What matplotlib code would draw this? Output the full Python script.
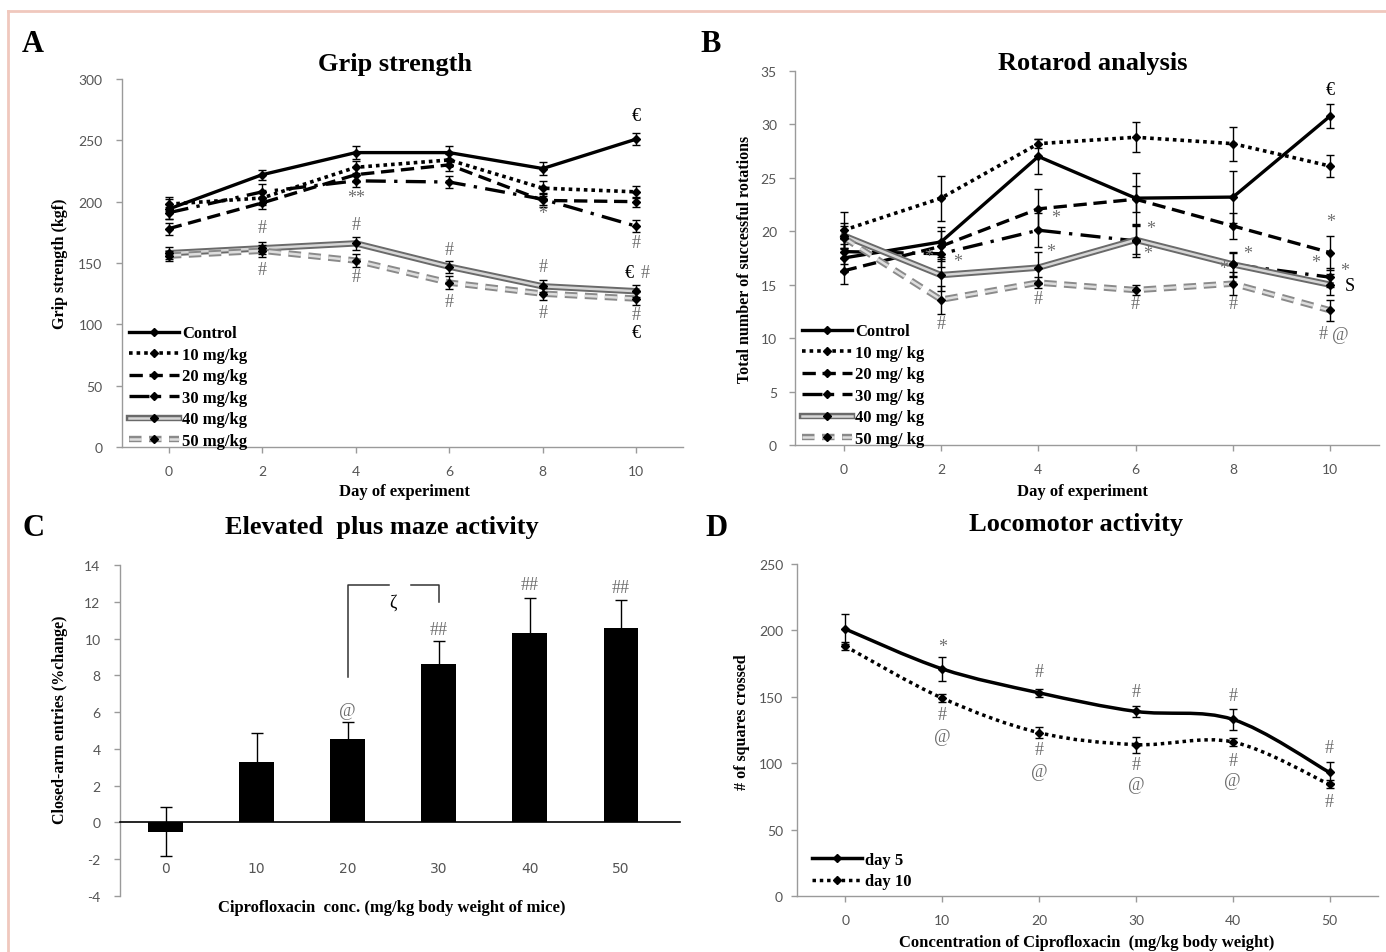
import numpy as np
import matplotlib.pyplot as plt
import matplotlib.patheffects as pe
from matplotlib.lines import Line2D
from matplotlib.path import Path
from matplotlib.patches import PathPatch
from matplotlib.legend_handler import HandlerTuple

plt.rcParams['axes.unicode_minus'] = False

W, H = 1386, 953
SERIF = 'Liberation Serif'
TICKF = 'Lato'

# ---------------- data ----------------
days = [0, 2, 4, 6, 8, 10]

# A: grip strength (kgf)
grip_control = [194, 222, 240, 240, 227, 251]
grip_10 = [198, 203, 228, 234, 211, 208]
grip_20 = [178, 199, 222, 230, 201, 200]
grip_30 = [191, 208, 217, 216, 202, 180]
grip_40 = [158, 162, 166, 147, 131, 127]
grip_50 = [156, 160, 152, 134, 125, 121]
grip_control_err = [8, 4, 5, 5, 5, 5]
grip_10_err = [6, 6, 5, 5, 6, 5]
grip_20_err = [5, 5, 6, 5, 5, 4]
grip_30_err = [5, 6, 5, 5, 5, 5]
grip_40_err = [5, 5, 5, 5, 5, 5]
grip_50_err = [4, 5, 5, 5, 5, 5]

# B: rotarod (successful rotations)
rot_control = [17.5, 19.0, 27.0, 23.1, 23.2, 30.8]
rot_10 = [20.1, 23.1, 28.2, 28.8, 28.2, 26.1]
rot_20 = [16.3, 18.6, 22.1, 23.0, 20.5, 18.0]
rot_30 = [18.1, 17.9, 20.1, 19.1, 16.9, 15.7]
rot_40 = [19.6, 15.9, 16.6, 19.2, 16.9, 15.0]
rot_50 = [19.4, 13.6, 15.2, 14.5, 15.1, 12.6]
rot_control_err = [1.3, 1.4, 1.6, 2.4, 2.4, 1.1]
rot_10_err = [1.7, 2.1, 0.4, 1.4, 1.6, 1.0]
rot_20_err = [1.2, 1.4, 1.9, 1.2, 1.2, 1.6]
rot_30_err = [1.2, 1.2, 1.6, 1.5, 1.2, 0.9]
rot_40_err = [1.2, 1.5, 1.5, 1.3, 1.1, 1.0]
rot_50_err = [1.1, 1.3, 0.5, 0.5, 1.1, 1.0]

groups_A = ['Control', '10 mg/kg', '20 mg/kg', '30 mg/kg', '40 mg/kg', '50 mg/kg']
groups_B = ['Control', '10 mg/ kg', '20 mg/ kg', '30 mg/ kg', '40 mg/ kg', '50 mg/ kg']

# C: elevated plus maze
conc_labels = ['0', '10', '20', '30', '40', '50']
epm_mean = [-0.5, 3.3, 4.55, 8.6, 10.3, 10.6]
epm_err = [1.35, 1.55, 0.9, 1.25, 1.9, 1.5]

# D: locomotor activity
conc = [0, 10, 20, 30, 40, 50]
loco_day5 = [201, 171, 153, 139, 133, 93]
loco_day5_err = [11, 9, 3, 4, 8, 8]
loco_day10 = [188, 149, 123, 114, 116, 84]
loco_day10_err = [3, 3, 4, 6, 3, 3]

# significance marks (x, y, text)
marks_A = [(10, 270, '€'), (4, 203, '**'), (2, 179, '#'), (4, 181, '#'),
           (8, 190, '*'), (10, 167, '#'), (6, 161, '#'), (8, 147, '#'),
           (9.85, 142, '€'), (10.2, 142, '#'), (2, 145, '#'), (4, 139, '#'),
           (6, 119, '#'), (8, 110, '#'), (10, 108, '#'), (10, 93, '€')]
marks_B = [(10, 33.3, '€'), (1.75, 17.6, '*'), (2.35, 17.2, '*'),
           (4.35, 21.3, '*'), (4.25, 18.1, '*'), (6.3, 20.3, '*'),
           (6.25, 17.9, '*'), (7.8, 16.5, '*'), (8.3, 17.9, '*'),
           (10, 20.9, '*'), (9.7, 17.1, '*'), (10.3, 16.3, '*'),
           (10.4, 14.9, 'S'), (2, 11.4, '#'), (4, 13.7, '#'), (6, 13.2, '#'),
           (8, 13.2, '#'), (9.85, 10.4, '#'), (10.2, 10.3, '@')]
marks_C = [(2, 6.1, '@'), (3, 10.5, '##'), (4, 12.95, '##'), (5, 12.8, '##'),
           (2.5, 12.0, 'ζ')]
marks_D = [(10, 188, '*'), (20, 169, '#'), (30, 154, '#'), (40, 151, '#'),
           (50, 112, '#'), (10, 137, '#'), (10, 120, '@'), (20, 110, '#'),
           (20, 94, '@'), (30, 99, '#'), (30, 84, '@'), (40, 102, '#'),
           (40, 87, '@'), (50, 71, '#')]

# ---------------- styles ----------------
styles = [
    dict(color='k', lw=2.4, ls='-', effects=None),
    dict(color='k', lw=2.6, ls=(0, (1, 1.1)), effects=None),
    dict(color='k', lw=2.4, ls=(0, (4, 2)), effects=None),
    dict(color='k', lw=2.4, ls=(0, (6, 2.5, 1, 2.5)), effects=None),
    dict(color='#d6d6d6', lw=1.8, ls='-',
         effects=[pe.Stroke(linewidth=4.6, foreground='#6a6a6a'), pe.Normal()]),
    dict(color='#dedede', lw=1.8, ls=(0, (5, 3)),
         effects=[pe.Stroke(linewidth=4.6, foreground='#8a8a8a'), pe.Normal()]),
]


def px_axes(fig, l, r, t, b):
    return fig.add_axes([l / W, 1 - b / H, (r - l) / W, (b - t) / H])


def style_axes(ax, pad_y=10, pad_x=10):
    for s in ['top', 'right']:
        ax.spines[s].set_visible(False)
    for s in ['left', 'bottom']:
        ax.spines[s].set_color('#9a9a9a')
        ax.spines[s].set_linewidth(1.0)
    ax.tick_params(axis='both', colors='#9a9a9a', length=4, width=1,
                   labelcolor='#555555', labelsize=10)
    ax.tick_params(axis='y', pad=pad_y)
    ax.tick_params(axis='x', pad=pad_x)
    for lab in ax.get_xticklabels() + ax.get_yticklabels():
        lab.set_fontfamily(TICKF)


def draw_line(ax, x, y, err, st):
    line, = ax.plot(x, y, color=st['color'], lw=st['lw'], ls=st['ls'], zorder=2)
    if st['effects']:
        line.set_path_effects(st['effects'])
    ax.errorbar(x, y, yerr=err, fmt='D', ms=4, color='k', ecolor='k',
                elinewidth=1, capsize=3, capthick=1, zorder=3)
    return line


def marks(ax, items, size=13):
    for x, y, t in items:
        c = 'k' if t in ('€', 'S', 'ζ') else '#6e6e6e'
        ax.text(x, y, t, ha='center', va='center', fontsize=size,
                family=SERIF, color=c, zorder=5)


def labels(ax, title, tpos, xlabel, xpos, ylabel, ypos):
    ax.text(tpos[0], tpos[1], title, transform=ax.transAxes, ha='center',
            va='center', fontsize=19, fontweight='bold', family=SERIF)
    ax.set_xlabel(xlabel, fontsize=12, fontweight='bold', family=SERIF)
    ax.xaxis.set_label_coords(*xpos)
    ax.xaxis.label.set_va('center')
    ax.set_ylabel(ylabel, fontsize=11.5, fontweight='bold', family=SERIF)
    ax.yaxis.set_label_coords(*ypos)
    ax.yaxis.label.set_va('center')


def smooth_path(x, y):
    pts = np.column_stack([x, y]).astype(float)
    n = len(pts)
    verts = [pts[0]]
    codes = [Path.MOVETO]
    for i in range(n - 1):
        p0 = pts[i - 1] if i > 0 else pts[i]
        p1, p2 = pts[i], pts[i + 1]
        p3 = pts[i + 2] if i + 2 < n else pts[i + 1]
        verts += [p1 + (p2 - p0) / 6, p2 - (p3 - p1) / 6, p2]
        codes += [Path.CURVE4] * 3
    return Path(verts, codes)


def legend(ax, lines, names, anchor):
    handles = []
    for ln in lines:
        mk = Line2D([], [], ls='none', marker='D', ms=4, color='k')
        handles.append((ln, mk))
    leg = ax.legend(handles, names, loc='lower left', bbox_to_anchor=anchor,
                    frameon=False, handlelength=3.0, handletextpad=0.2,
                    labelspacing=0.33, borderaxespad=0, borderpad=0,
                    handler_map={tuple: HandlerTuple(ndivide=1, pad=0)},
                    prop=dict(family=SERIF, weight='bold', size=12))
    return leg


fig = plt.figure(figsize=(W / 100, H / 100), dpi=100)

# ---------------- A ----------------
axA = px_axes(fig, 122, 683, 80, 448)
grip_means = [grip_control, grip_10, grip_20, grip_30, grip_40, grip_50]
grip_errs = [grip_control_err, grip_10_err, grip_20_err, grip_30_err,
             grip_40_err, grip_50_err]
linesA = [draw_line(axA, days, m, e, st)
          for m, e, st in zip(grip_means, grip_errs, styles)]
axA.set_xlim(-1, 11)
axA.set_ylim(0, 300)
axA.set_xticks(days)
axA.set_yticks(range(0, 301, 50))
style_axes(axA, pad_y=10, pad_x=9)
marks(axA, marks_A)
labels(axA, 'Grip strength', (0.487, 1.041), 'Day of experiment', (0.503, -0.12),
       'Grip strength (kgf)', (-0.11, 0.5))
legend(axA, linesA, groups_A, (0.012, -0.005))

# ---------------- B ----------------
axB = px_axes(fig, 795, 1379, 72, 446)
rot_means = [rot_control, rot_10, rot_20, rot_30, rot_40, rot_50]
rot_errs = [rot_control_err, rot_10_err, rot_20_err, rot_30_err,
            rot_40_err, rot_50_err]
linesB = [draw_line(axB, days, m, e, st)
          for m, e, st in zip(rot_means, rot_errs, styles)]
axB.set_xlim(-1, 11)
axB.set_ylim(0, 35)
axB.set_xticks(days)
axB.set_yticks(range(0, 36, 5))
style_axes(axB, pad_y=9, pad_x=9)
marks(axB, marks_B)
labels(axB, 'Rotarod analysis', (0.51, 1.024), 'Day of experiment', (0.493, -0.123),
       'Total number of successful rotations', (-0.086, 0.5))
legend(axB, linesB, groups_B, (0.012, -0.005))

# ---------------- C ----------------
axC = px_axes(fig, 120, 680, 566, 897)
xc = np.arange(len(conc_labels))
axC.bar(xc, epm_mean, width=0.38, color='k', zorder=2)
axC.errorbar(xc, epm_mean, yerr=epm_err, fmt='none', ecolor='k',
             elinewidth=1, capsize=4, capthick=1, zorder=3)
axC.set_xlim(-0.5, 5.65)
axC.set_ylim(-4, 14)
axC.set_yticks(range(-4, 15, 2))
axC.set_xticks(xc)
axC.set_xticklabels(conc_labels)
style_axes(axC, pad_y=10, pad_x=28)
axC.spines['bottom'].set_position(('data', 0))
axC.spines['bottom'].set_color('k')
axC.spines['bottom'].set_linewidth(1.2)
axC.tick_params(axis='x', length=0)
# bracket between 20 and 30
axC.plot([2, 2, 2.45], [7.9, 12.9, 12.9], color='#333333', lw=1.1)
axC.plot([2.7, 3, 3], [12.9, 12.9, 12.0], color='#333333', lw=1.1)
marks(axC, marks_C)
labels(axC, 'Elevated  plus maze activity', (0.468, 1.115),
       'Ciprofloxacin  conc. (mg/kg body weight of mice)', (0.486, -0.033),
       'Closed-arm entries (%change)', (-0.107, 0.535))

# ---------------- D ----------------
axD = px_axes(fig, 797, 1378, 565, 897)
lw_d = 2.5
axD.add_patch(PathPatch(smooth_path(conc, loco_day5), fill=False, lw=lw_d,
                        ls='-', edgecolor='k', zorder=2))
axD.add_patch(PathPatch(smooth_path(conc, loco_day10), fill=False, lw=lw_d,
                        ls=(0, (1, 1.1)), edgecolor='k', zorder=2))
axD.errorbar(conc, loco_day5, yerr=loco_day5_err, fmt='D', ms=4, color='k',
             elinewidth=1, capsize=3, capthick=1, zorder=3)
axD.errorbar(conc, loco_day10, yerr=loco_day10_err, fmt='D', ms=4, color='k',
             elinewidth=1, capsize=3, capthick=1, zorder=3)
axD.set_xlim(-5, 55)
axD.set_ylim(0, 250)
axD.set_xticks(conc)
axD.set_yticks(range(0, 251, 50))
style_axes(axD, pad_y=6, pad_x=9)
marks(axD, marks_D)
labels(axD, 'Locomotor activity', (0.48, 1.123),
       'Concentration of Ciprofloxacin  (mg/kg body weight)', (0.499, -0.139),
       '# of squares crossed', (-0.095, 0.527))
lnD = [Line2D([], [], color='k', lw=lw_d, ls='-'),
       Line2D([], [], color='k', lw=lw_d, ls=(0, (1, 1.1)))]
legend(axD, lnD, ['day 5', 'day 10'], (0.025, 0.02))

# panel letters
for lx, ly, letter in [(33, 45, 'A'), (711, 45, 'B'), (33, 528, 'C'), (716, 528, 'D')]:
    fig.text(lx / W, 1 - ly / H, letter, ha='center', va='center',
             fontsize=22, fontweight='bold', family=SERIF)

# thin page border
fig.add_artist(Line2D([8 / W, 1], [1 - 12 / H, 1 - 12 / H], color='#f0c8bd',
                      lw=2, transform=fig.transFigure))
fig.add_artist(Line2D([8 / W, 8 / W], [0, 1 - 12 / H], color='#f0c8bd',
                      lw=2, transform=fig.transFigure))

fig.savefig('out.png', dpi=100)
